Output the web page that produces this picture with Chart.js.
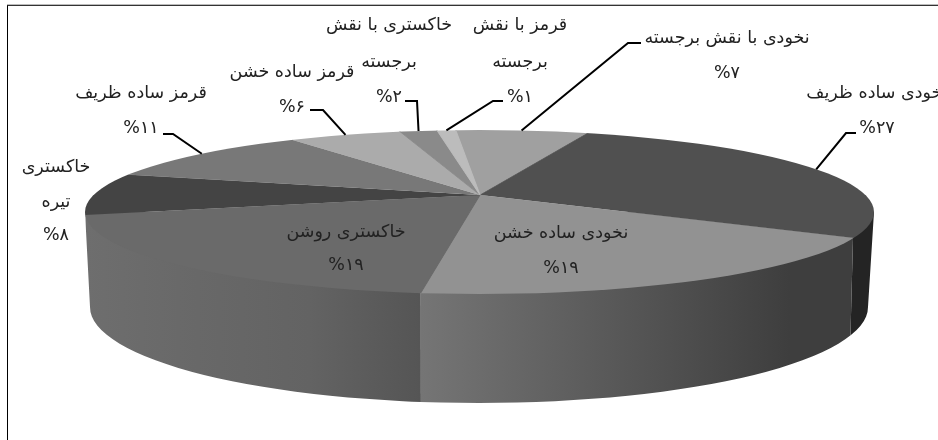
<!DOCTYPE html>
<html>
<head>
<meta charset="utf-8">
<style>
	html, body { margin: 0; padding: 0; background: #fff; overflow: hidden; }
	#mycanvas { position: absolute; left: 0; top: 0; }
	#frame { position: absolute; left: 7px; top: 5px; right: 0; bottom: 0; border-top: 1px solid #333; border-left: 1px solid #000; box-shadow: 0 -1px 0 #bbb; }
</style>
<script src="https://cdn.jsdelivr.net/npm/chart.js@4"></script>
</head>
<body>
<div id="frame"></div>
<canvas id="mycanvas" width="938" height="440"></canvas>
<script>
// data, clockwise from the top of the pie
var categories = [
	["نخودی با نقش برجسته"],
	["نخودی ساده ظریف"],
	["نخودی ساده خشن"],
	["خاکستری روشن"],
	["خاکستری", "تیره"],
	["قرمز ساده ظریف"],
	["قرمز ساده خشن"],
	["خاکستری با نقش", "برجسته"],
	["قرمز با نقش", "برجسته"]
];
var values = [7, 27, 19, 19, 8, 11, 6, 2, 1];
var percentLabels = ["%۷", "%۲۷", "%۱۹", "%۱۹", "%۸", "%۱۱", "%۶", "%۲", "%۱"];

// styles
var topColors = ["#a0a0a0", "#505050", "#929292", "#6a6a6a", "#444444", "#787878", "#ababab", "#8a8a8a", "#bcbcbc"];
var wallColors = [null, ["#242424", "#202020"], ["#757575", "#3e3e3e"], ["#6e6e6e", "#686868", "#636363", "#555555"], ["#8a8a8a", "#8a8a8a"], null, null, null, null];

// label placement: centre x, then y for each text line (last one is the percent)
var labelX = [727, 877, 561, 346, 56, 141, 292, 389, 520];
var labelY = [[38, 73], [93, 128], [233, 268], [232, 265], [167, 202, 235], [93, 128], [72, 107], [25, 62, 97], [25, 62, 97]];
// leader elbows, null = no leader
var leaderBends = [[[628, 43], [641, 43]], [[846, 133], [856, 133]], null, null, null, [[173, 134], [163, 134]], [[323, 110], [310, 110]], [[417, 101], [405, 101]], [[493, 101], [503, 101]]];

// tilted pie geometry
var apex = { x: 480, y: 195 };
var rim = { x: 479.5, y: 212, a: 394.5, b: 82 };
var foot = { x: 479, y: 307, a: 389, b: 96 };
var backTilt = { k: 0.2176, s: 0.029 };
var frontTilt = { k: 0.2055, s: 0.0125 };
var reach = 620;

function rimPoint(angle) {
	var t = Math.sin(angle) > 0 ? frontTilt : backTilt;
	var dx = Math.cos(angle) + t.s * Math.sin(angle);
	var dy = t.k * Math.sin(angle);
	var ox = (apex.x - rim.x) / rim.a, oy = (apex.y - rim.y) / rim.b;
	var ux = dx / rim.a, uy = dy / rim.b;
	var A = ux * ux + uy * uy, B = 2 * (ox * ux + oy * uy), C = ox * ox + oy * oy - 1;
	var d = (-B + Math.sqrt(B * B - 4 * A * C)) / (2 * A);
	return { x: apex.x + d * dx, y: apex.y + d * dy };
}

function footX(x) {
	return foot.x + (x - rim.x) * foot.a / rim.a;
}

// runs under the top face so no light seam shows along the rim
function wallPath(ctx) {
	ctx.beginPath();
	ctx.moveTo(rim.x - rim.a, rim.y);
	ctx.lineTo(foot.x - foot.a, foot.y);
	ctx.ellipse(foot.x, foot.y, foot.a, foot.b, 0, Math.PI, 0, true);
	ctx.lineTo(rim.x + rim.a, rim.y);
	ctx.closePath();
}

function drawWalls(ctx, arcs) {
	arcs.forEach(function(arc, i) {
		if (!wallColors[i]) return;
		var right = rimPoint(arc.startAngle), left = rimPoint(arc.endAngle);
		var xr = right.y > rim.y ? right.x : 1000;
		var xl = left.y > rim.y ? left.x : -60;
		ctx.save();
		ctx.beginPath();
		ctx.moveTo(xl, rim.y);
		ctx.lineTo(xr, rim.y);
		ctx.lineTo(xr < 1000 ? footX(xr) : 1000, 430);
		ctx.lineTo(xl > 0 ? footX(xl) : -60, 430);
		ctx.closePath();
		ctx.clip();
		wallPath(ctx);
		var g = ctx.createLinearGradient(Math.max(xl, 86), 0, Math.min(xr, 790), 0);
		wallColors[i].forEach(function(c, n) {
			g.addColorStop(n / (wallColors[i].length - 1), c);
		});
		ctx.fillStyle = g;
		ctx.fill();
		ctx.restore();
	});
}

function drawTopHalf(ctx, arcs, tilt, y0, y1) {
	var c = arcs[0];
	var S = reach / c.outerRadius;
	ctx.save();
	ctx.beginPath();
	ctx.rect(0, y0, 938, y1 - y0);
	ctx.clip();
	ctx.beginPath();
	ctx.ellipse(rim.x, rim.y, rim.a, rim.b, 0, 0, Math.PI * 2);
	ctx.clip();
	ctx.transform(S, 0, S * tilt.s, S * tilt.k, apex.x, apex.y);
	ctx.translate(-c.x, -c.y);
	arcs.forEach(function(arc) { arc.draw(ctx); });
	ctx.restore();
}

function drawLabels(ctx, arcs) {
	ctx.save();
	ctx.font = "17.5px 'DejaVu Sans'";
	ctx.textAlign = "center";
	ctx.textBaseline = "middle";
	ctx.fillStyle = "#222";
	categories.forEach(function(lines, i) {
		lines.forEach(function(line, j) {
			ctx.fillText(line, labelX[i], labelY[i][j]);
		});
		ctx.fillText(percentLabels[i], labelX[i], labelY[i][lines.length]);
	});
	ctx.strokeStyle = "#000";
	ctx.lineWidth = 2;
	arcs.forEach(function(arc, i) {
		if (!leaderBends[i]) return;
		var p = rimPoint((arc.startAngle + arc.endAngle) / 2);
		ctx.beginPath();
		ctx.moveTo(p.x, p.y);
		ctx.lineTo(leaderBends[i][0][0], leaderBends[i][0][1]);
		ctx.lineTo(leaderBends[i][1][0], leaderBends[i][1][1]);
		ctx.stroke();
	});
	ctx.restore();
}

var tiltedPie = {
	id: "tiltedPie",
	beforeDatasetsDraw: function(chart) {
		var ctx = chart.ctx;
		var arcs = chart.getDatasetMeta(0).data;
		drawWalls(ctx, arcs);
		drawTopHalf(ctx, arcs, backTilt, 0, apex.y + 0.5);
		drawTopHalf(ctx, arcs, frontTilt, apex.y, 440);
		drawLabels(ctx, arcs);
		return false;
	}
};

var pie = new Chart(document.getElementById("mycanvas"), {
	type: "pie",
	data: {
		labels: categories,
		datasets: [{
			data: values,
			backgroundColor: topColors,
			borderColor: topColors,
			borderWidth: 0.4
		}]
	},
	options: {
		responsive: false,
		animation: false,
		rotation: -3,
		plugins: { legend: { display: false }, tooltip: { enabled: false } }
	},
	plugins: [tiltedPie]
});
</script>
</body>
</html>
